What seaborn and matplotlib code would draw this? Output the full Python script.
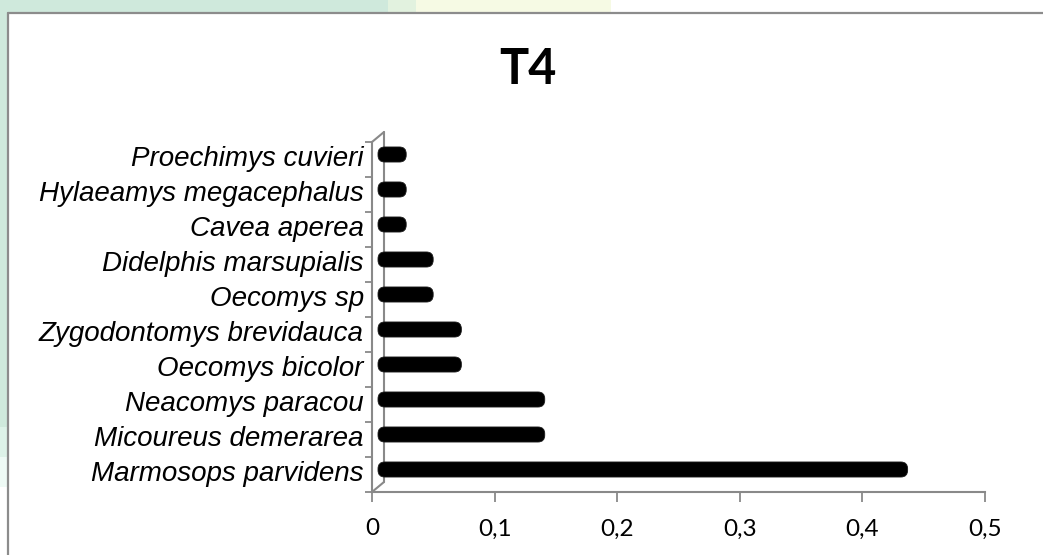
import numpy as np
import pandas as pd
import matplotlib
matplotlib.use("Agg")
import matplotlib.pyplot as plt
import seaborn as sns
from matplotlib.patches import FancyBboxPatch, Rectangle
from matplotlib.lines import Line2D
from matplotlib.transforms import ScaledTranslation

# Relative abundance of each species in sample T4
species = [
    "Proechimys cuvieri",
    "Hylaeamys megacephalus",
    "Cavea aperea",
    "Didelphis marsupialis",
    "Oecomys sp",
    "Zygodontomys brevidauca",
    "Oecomys bicolor",
    "Neacomys paracou",
    "Micoureus demerarea",
    "Marmosops parvidens",
]
share = [0.023, 0.023, 0.023, 0.045, 0.045, 0.068, 0.068, 0.136, 0.136, 0.432]

x_ticks = [0, 0.1, 0.2, 0.3, 0.4, 0.5]
x_tick_labels = ["0", "0,1", "0,2", "0,3", "0,4", "0,5"]
title = "T4"

W, H, DPI = 1043, 555, 100
AXIS_GREY = "#898989"

sns.set_style("white")
fig = plt.figure(figsize=(W / DPI, H / DPI), dpi=DPI, facecolor="white")

# page background peeking around the chart frame
def band(x0, y0, x1, y1, color):
    fig.add_artist(Rectangle((x0 / W, 1 - y1 / H), (x1 - x0) / W, (y1 - y0) / H,
                             transform=fig.transFigure, facecolor=color,
                             edgecolor="none", zorder=-10))

band(0, 0, 7, 427, "#cfe9dc")
band(0, 427, 7, 457, "#ddf2e8")
band(0, 457, 7, 487, "#eefaf5")
band(0, 0, 388, 12, "#cfe9dc")
band(388, 0, 416, 12, "#e2f2df")
band(416, 0, 611, 12, "#f6fae4")

# chart frame (left and top edges)
fig.add_artist(Line2D([8 / W, 8 / W], [0, 1 - 13 / H], transform=fig.transFigure,
                      color="#8c8c8c", lw=1.6))
fig.add_artist(Line2D([8 / W, 1], [1 - 13 / H, 1 - 13 / H], transform=fig.transFigure,
                      color="#8c8c8c", lw=1.6))

left, right, top, bottom = 372, 985, 142, 492
ax = fig.add_axes([left / W, 1 - bottom / H, (right - left) / W, (bottom - top) / H])
ax.set_facecolor("none")

df = pd.DataFrame({"species": species, "share": share})
sns.barplot(data=df, x="share", y="species", color="black", saturation=1,
            width=0.43, ax=ax, orient="h")

ax.set_xlim(0, 0.5)
ax.set_ylim(9.5, -0.5)

px_x = (right - left) / 0.5        # pixels per x unit
px_y = (bottom - top) / 10.0       # pixels per category
depth_dx, depth_dy = 12, 10        # depth of the 3-D floor in pixels

# rounded, half-depth bars
shift = ScaledTranslation(depth_dx / 2 / DPI, depth_dy / 2 / DPI, fig.dpi_scale_trans)
radius = 6.8 / px_x
for p in list(ax.patches):
    x0, y0, w, h = p.get_x(), p.get_y(), p.get_width(), p.get_height()
    p.remove()
    ax.add_patch(FancyBboxPatch((x0, y0), w, h,
                                boxstyle=f"round,pad=0,rounding_size={radius}",
                                mutation_aspect=px_x / px_y,
                                facecolor="black", edgecolor="#1a1a1a", lw=0.6,
                                transform=ax.transData + shift, zorder=3))

# back wall of the 3-D plot area
wx = depth_dx / px_x
wy = depth_dy / px_y
ax.plot([wx, wx], [-0.5 - wy, 9.5 - wy], color=AXIS_GREY, lw=1.5, clip_on=False, zorder=2)
ax.plot([0, wx], [-0.5, -0.5 - wy], color=AXIS_GREY, lw=1.5, clip_on=False, zorder=2)
ax.plot([0, wx], [9.5, 9.5 - wy], color=AXIS_GREY, lw=1.5, clip_on=False, zorder=2)

for side in ["top", "right"]:
    ax.spines[side].set_visible(False)
for side in ["left", "bottom"]:
    ax.spines[side].set_color(AXIS_GREY)
    ax.spines[side].set_linewidth(1.5)

ax.set_xticks(x_ticks, labels=x_tick_labels)
ax.tick_params(axis="x", bottom=True, direction="out", length=7, width=1.3,
               color=AXIS_GREY, pad=12, labelsize=17.5, labelcolor="black")
for t in ax.get_xticklabels():
    t.set_family("Lato")

ax.set_yticks(np.arange(-0.5, 10, 1), labels=[""] * 11)
ax.set_yticks(np.arange(10) - 0.1, labels=species, minor=True)
ax.tick_params(axis="y", which="major", left=True, direction="out", length=5,
               width=1.3, color=AXIS_GREY)
ax.tick_params(axis="y", which="minor", left=True, length=0, pad=6, labelsize=20,
               labelcolor="black")
for t in ax.get_yticklabels(minor=True):
    t.set_family("Liberation Sans")
    t.set_style("italic")

ax.set_xlabel("")
ax.set_ylabel("")

fig.text(528 / W, 1 - 70 / H, title, ha="center", va="center", fontsize=35,
         fontweight="bold", family="Lato", color="black")

fig.savefig("out.png", dpi=DPI, facecolor="white")
